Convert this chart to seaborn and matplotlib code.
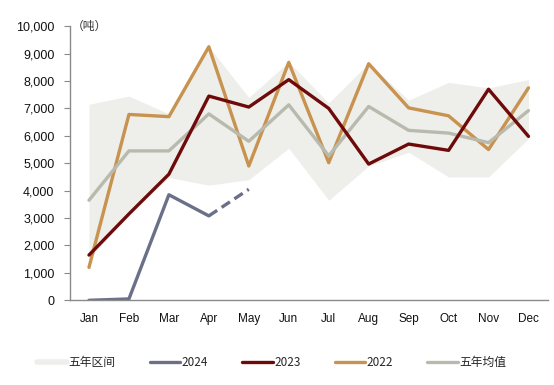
import matplotlib
matplotlib.use("Agg")
import matplotlib.pyplot as plt
import seaborn as sns
from matplotlib.lines import Line2D

# ----------------------------
# DATA
# ----------------------------
months = ["Jan", "Feb", "Mar", "Apr", "May", "Jun",
          "Jul", "Aug", "Sep", "Oct", "Nov", "Dec"]

band_high = [7150, 7450, 6800, 9250, 7400, 8700, 7200, 8650, 7300, 7950, 7750, 8050]
band_low = [1500, 3150, 4480, 4200, 4400, 5550, 3650, 4900, 5400, 4500, 4500, 5900]

y2024 = [0, 50, 3850, 3080]
y2024_est = [3080, 4050]  # Apr -> May, dashed
y2023 = [1650, 3150, 4600, 7450, 7050, 8050, 7000, 4970, 5700, 5470, 7700, 5980]
y2022 = [1200, 6780, 6700, 9250, 4900, 8680, 5020, 8630, 7020, 6730, 5500, 7750]
avg5 = [3650, 5450, 5450, 6800, 5800, 7130, 5270, 7070, 6200, 6100, 5750, 6920]

# ----------------------------
# STYLE
# ----------------------------
sns.set_style("white")
plt.rcParams["font.family"] = ["Liberation Sans", "Noto Sans CJK SC", "DejaVu Sans"]

c_band = "#eeeeea"
c_2024 = "#6b7089"
c_2023 = "#6e0a0a"
c_2022 = "#c8924f"
c_avg = "#b8baad"
lw = 2.4

fig, ax = plt.subplots(figsize=(5.54, 3.85), dpi=100)
fig.subplots_adjust(left=0.126, right=0.99, top=0.932, bottom=0.22)

x = list(range(len(months)))
ax.fill_between(x, band_low, band_high, color=c_band, lw=0)

sns.lineplot(x=x, y=y2022, color=c_2022, lw=lw, ax=ax)
sns.lineplot(x=x, y=avg5, color=c_avg, lw=lw, ax=ax)
sns.lineplot(x=x, y=y2023, color=c_2023, lw=lw, ax=ax)
sns.lineplot(x=x[:4], y=y2024, color=c_2024, lw=lw, ax=ax)
sns.lineplot(x=x[3:5], y=y2024_est, color=c_2024, lw=lw, ax=ax,
             linestyle=(0, (3, 1.6)))

ax.set_xlim(-0.48, 11.5)
ax.set_ylim(0, 10000)
ax.set_yticks(range(0, 10001, 1000))
ax.set_yticklabels([f"{v:,}" for v in range(0, 10001, 1000)])
ax.set_xticks(x)
ax.set_xticklabels(months)

for s in ["top", "right"]:
    ax.spines[s].set_visible(False)
for s in ["left", "bottom"]:
    ax.spines[s].set_color("#8a8a8a")
    ax.spines[s].set_linewidth(1.0)

ax.tick_params(axis="y", which="both", left=True, length=4, width=0.8,
               color="#8a8a8a", labelsize=9, pad=7, labelcolor="#111111")
ax.tick_params(axis="x", bottom=False, labelsize=8.5, pad=6, labelcolor="#111111")

ax.text(0.005, 1.0, "（吨）", transform=ax.transAxes, fontsize=8.5,
        ha="left", va="center", color="#333333",
        family=["Noto Sans CJK SC", "DejaVu Sans"])

handles = [
    Line2D([], [], color=c_band, lw=4),
    Line2D([], [], color=c_2024, lw=lw),
    Line2D([], [], color=c_2023, lw=lw),
    Line2D([], [], color=c_2022, lw=lw),
    Line2D([], [], color=c_avg, lw=lw),
]
labels = ["五年区间", "2024", "2023", "2022", "五年均值"]
fig.legend(handles, labels, loc="center", bbox_to_anchor=(0.49, 0.058),
           ncol=5, frameon=False, handlelength=2.6, handletextpad=0.1,
           columnspacing=2.9, prop={"family": ["Noto Sans CJK SC", "DejaVu Sans"],
                                    "size": 8.5})

fig.savefig("out.png", dpi=100)
